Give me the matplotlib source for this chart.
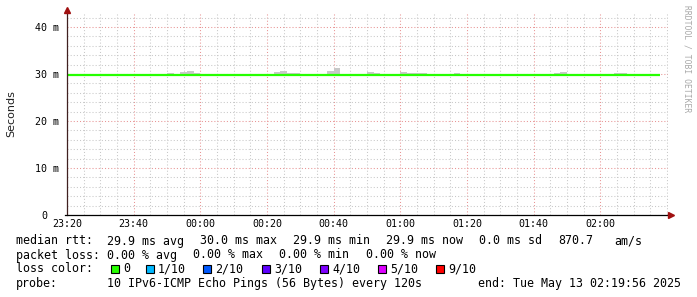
import matplotlib
matplotlib.use("Agg")
import matplotlib.pyplot as plt
import matplotlib.transforms as mtrans
from matplotlib.patches import Rectangle
from matplotlib.lines import Line2D

# --- data ---
median_times = ["23:20", "02:18"]
median_rtt = [29.9, 29.9]  # ms

smoke_start = ["23:50", "23:54", "23:56", "23:58", "00:22", "00:24", "00:26",
               "00:38", "00:40", "00:50", "00:52", "01:00", "01:02", "01:16",
               "01:46", "01:48", "02:04"]
smoke_end = ["23:52", "23:56", "23:58", "00:00", "00:24", "00:26", "00:30",
             "00:40", "00:42", "00:52", "00:54", "01:02", "01:08", "01:18",
             "01:48", "01:50", "02:08"]
smoke_top = [30.3, 30.4, 30.6, 30.2, 30.4, 30.7, 30.2,
             30.7, 31.3, 30.4, 30.2, 30.4, 30.2, 30.2,
             30.2, 30.4, 30.2]
smoke_bottom = 29.8

xtick_labels = ["23:20", "23:40", "00:00", "00:20", "00:40",
                "01:00", "01:20", "01:40", "02:00"]
ytick_values = [0, 10, 20, 30, 40]
ytick_labels = ["0", "10 m", "20 m", "30 m", "40 m"]

loss_labels = ["0", "1/10", "2/10", "3/10", "4/10", "5/10", "9/10"]
loss_colors = ["#26ff00", "#00b8ff", "#0059ff", "#5e00ff", "#7e00ff",
               "#dd00ff", "#ff0000"]


def to_min(s):
    h, m = map(int, s.split(":"))
    t = h * 60 + m
    if h < 12:
        t += 1440
    return t - (23 * 60 + 20)


W, H = 697, 297


def fx(x):
    return x / W


def fy(y):
    return 1 - y / H


MONO = "DejaVu Sans Mono"

fig = plt.figure(figsize=(W / 100, H / 100), dpi=100)
fig.patch.set_facecolor("white")

left, right, bottom, top = 67, 668, 215, 13
ax = fig.add_axes([fx(left), fy(bottom), fx(right - left), (bottom - top) / H])
ax.set_facecolor("white")

# smoke
xs = [to_min(s) for s in smoke_start]
ws = [to_min(e) - to_min(s) for s, e in zip(smoke_start, smoke_end)]
hs = [t - smoke_bottom for t in smoke_top]
ax.bar(xs, hs, width=ws, bottom=smoke_bottom, align="edge",
       color="#c8c8c8", linewidth=0, zorder=2)

# median line
ax.plot([to_min(t) for t in median_times], median_rtt,
        color=loss_colors[0], lw=1.6, solid_capstyle="butt", zorder=3)

ax.set_xlim(0, 180.3)
ax.set_ylim(0, 43)

ax.set_xticks([to_min(t) for t in xtick_labels])
ax.set_xticklabels(xtick_labels, fontfamily=MONO, fontsize=7.2)
ax.set_xticks(range(0, 181, 5), minor=True)
ax.set_yticks(ytick_values)
ax.set_yticklabels(ytick_labels, fontfamily=MONO, fontsize=7.2)
ax.set_yticks(range(0, 43, 2), minor=True)
ax.tick_params(which="both", length=0)
ax.tick_params(axis="x", pad=3)
ax.tick_params(axis="y", pad=6)

# rrdtool puts the bare "0" further left than the "n m" labels
zero_lab = ax.get_yticklabels()[0]
zero_lab.set_transform(zero_lab.get_transform() +
                       mtrans.ScaledTranslation(-11 / 100, 0, fig.dpi_scale_trans))

ax.grid(which="minor", color="#c8c8c8", linestyle=(0, (1, 2)), lw=0.75, zorder=1)
ax.grid(which="major", color="#e89494", linestyle=(0, (1, 2)), lw=0.75, zorder=1)
ax.set_axisbelow(True)
for sp in ax.spines.values():
    sp.set_visible(False)

# axes with arrows
fig.add_artist(Line2D([fx(left), fx(left)], [fy(bottom), fy(10)],
                      color="#402020", lw=0.9))
fig.add_artist(Line2D([fx(left - 2), fx(669)], [fy(bottom), fy(bottom)],
                      color="black", lw=0.9))
fig.add_artist(Line2D([fx(left)], [fy(10)], marker="^", markersize=4,
                      color="#a01010", lw=0))
fig.add_artist(Line2D([fx(671)], [fy(bottom)], marker=">", markersize=4,
                      color="#a01010", lw=0))

# labels
fig.text(fx(11), fy(114), "Seconds", rotation=90, ha="center", va="center",
         fontsize=8, color="#202020")
fig.text(fx(687), fy(5), "RRDTOOL / TOBI OETIKER", rotation=-90, ha="center",
         va="top", fontsize=5.8, fontfamily=MONO, color="#a8a8a8")

fs = 8.35
rows = [241, 255, 269, 283]


def t(x, y, s):
    fig.text(fx(x), fy(y), s, fontfamily=MONO, fontsize=fs, va="center",
             ha="left", color="black")


t(16, rows[0], "median rtt:")
for x, s in [(107, "29.9 ms avg"), (200, "30.0 ms max"), (293, "29.9 ms min"),
             (386, "29.9 ms now"), (479, "0.0 ms sd"), (558, "870.7"),
             (614, "am/s")]:
    t(x, rows[0], s)

t(16, rows[1], "packet loss:")
for x, s in [(107, "0.00 % avg"), (193, "0.00 % max"), (279, "0.00 % min"),
             (366, "0.00 % now")]:
    t(x, rows[1], s)

t(16, rows[2], "loss color:")
sq_x = [111, 146, 203, 262, 320, 378, 436]
for x, lab, c in zip(sq_x, loss_labels, loss_colors):
    fig.add_artist(Rectangle((fx(x), fy(rows[2] + 4)), 8 / W, 8 / H,
                             facecolor=c, edgecolor="black", lw=0.8))
    t(x + 12, rows[2], lab)

t(16, rows[3], "probe:")
t(107, rows[3], "10 IPv6-ICMP Echo Pings (56 Bytes) every 120s")
t(478, rows[3], "end: Tue May 13 02:19:56 2025")

fig.savefig("out.png", dpi=100, facecolor="white")
